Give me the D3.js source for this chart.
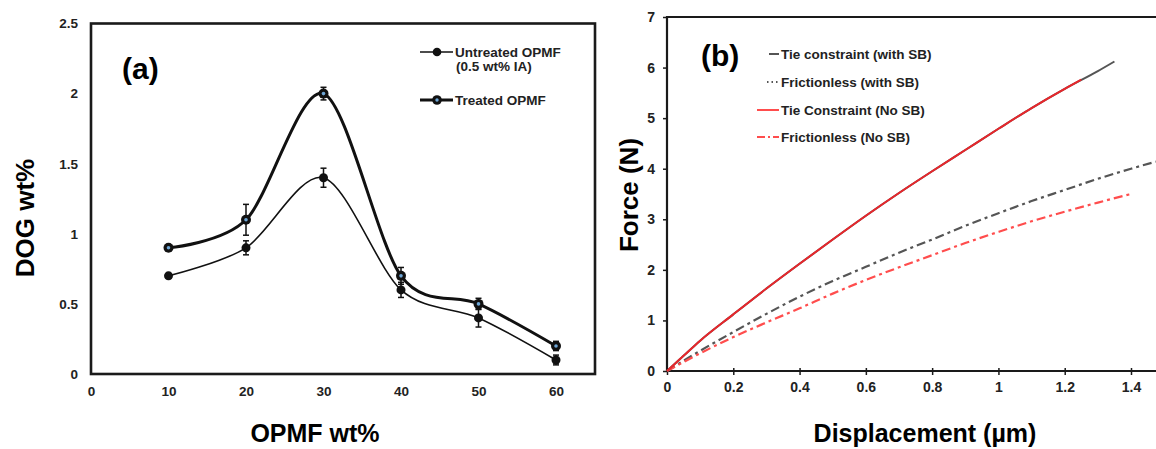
<!DOCTYPE html>
<html><head><meta charset="utf-8">
<script src="https://cdn.jsdelivr.net/npm/d3@7"></script>
<style>
html,body{margin:0;padding:0;background:#fff;}
text{font-family:"Liberation Sans",Arial,sans-serif;font-weight:bold;}
</style></head>
<body><svg id="c" width="1156" height="449"></svg>
<script>
// ---- Panel (a) data ----
const opmf = [10, 20, 30, 40, 50, 60];
const untreated = [0.7, 0.9, 1.4, 0.6, 0.4, 0.1];
const untreatedErr = [0.015, 0.05, 0.068, 0.054, 0.065, 0.035];
const treated = [0.9, 1.1, 2.0, 0.7, 0.5, 0.2];
const treatedErr = [0.015, 0.11, 0.045, 0.06, 0.04, 0.033];
const aXTicks = [0, 10, 20, 30, 40, 50, 60];
const aYTicks = [0, 0.5, 1, 1.5, 2, 2.5];

// ---- Panel (b) data ----
const tieSBx = [0, 0.05, 0.1, 0.2, 0.3, 0.4, 0.5, 0.6, 0.7, 0.8, 0.9, 1.0, 1.1, 1.2, 1.3, 1.35];
const tieSBy = [0, 0.3, 0.6, 1.12, 1.63, 2.12, 2.6, 3.07, 3.52, 3.95, 4.37, 4.79, 5.2, 5.58, 5.93, 6.12];
const tieNoSBx = [0, 0.05, 0.1, 0.2, 0.3, 0.4, 0.5, 0.6, 0.7, 0.8, 0.9, 1.0, 1.1, 1.2, 1.25];
const tieNoSBy = [0, 0.3, 0.6, 1.12, 1.63, 2.12, 2.6, 3.07, 3.52, 3.95, 4.37, 4.79, 5.2, 5.58, 5.76];
const fricSBx = [0, 0.1, 0.2, 0.3, 0.4, 0.5, 0.6, 0.7, 0.8, 0.9, 1.0, 1.1, 1.2, 1.3, 1.4, 1.475];
const fricSBy = [0, 0.4, 0.77, 1.13, 1.47, 1.78, 2.06, 2.34, 2.6, 2.87, 3.12, 3.36, 3.58, 3.8, 4.0, 4.14];
const fricNoSBx = [0, 0.1, 0.2, 0.3, 0.4, 0.5, 0.6, 0.7, 0.8, 0.9, 1.0, 1.1, 1.2, 1.3, 1.4];
const fricNoSBy = [0, 0.35, 0.67, 0.96, 1.24, 1.53, 1.8, 2.05, 2.29, 2.53, 2.75, 2.96, 3.15, 3.33, 3.5];
const bXTicks = [0, 0.2, 0.4, 0.6, 0.8, 1, 1.2, 1.4];
const bYTicks = [0, 1, 2, 3, 4, 5, 6, 7];

const svg = d3.select("#c");
const zip = (xs, ys) => xs.map((x, i) => [x, ys[i]]);

// ================= Panel (a) =================
const xA = d3.scaleLinear().domain([0, 60]).range([91, 556]);
const yA = d3.scaleLinear().domain([0, 2.5]).range([374, 23.5]);
const gA = svg.append("g");

gA.append("rect").attr("x", xA(0)).attr("y", yA(2.5))
  .attr("width", 595 - xA(0)).attr("height", yA(0) - yA(2.5))
  .attr("fill", "none").attr("stroke", "#1a1a1a").attr("stroke-width", 2.6);

const axA_y = gA.append("g").attr("transform", `translate(${xA(0)},0)`)
  .call(d3.axisLeft(yA).tickValues(aYTicks).tickSize(0).tickPadding(13).tickFormat(d3.format("")));
axA_y.select(".domain").remove();
axA_y.selectAll("text").attr("font-size", 13.5).attr("fill", "#222")
  .style("font-family", '"Liberation Sans",Arial,sans-serif').style("font-weight", "bold");
const axA_x = gA.append("g").attr("transform", `translate(0,${yA(0)})`)
  .call(d3.axisBottom(xA).tickValues(aXTicks).tickSize(0).tickPadding(12).tickFormat(d3.format("")));
axA_x.select(".domain").remove();
axA_x.selectAll("text").attr("font-size", 13.5).attr("fill", "#222")
  .style("font-family", '"Liberation Sans",Arial,sans-serif').style("font-weight", "bold");

const lineA = d3.line().x(d => xA(d[0])).y(d => yA(d[1])).curve(d3.curveCardinal.tension(0.1));
gA.append("path").datum(zip(opmf, untreated)).attr("d", lineA)
  .attr("fill", "none").attr("stroke", "#111").attr("stroke-width", 1.6);
gA.append("path").datum(zip(opmf, treated)).attr("d", lineA)
  .attr("fill", "none").attr("stroke", "#111").attr("stroke-width", 3);

function errBars(vals, errs) {
  opmf.forEach((x, i) => {
    const cx = xA(x), y1 = yA(vals[i] + errs[i]), y2 = yA(vals[i] - errs[i]);
    gA.append("line").attr("x1", cx).attr("x2", cx).attr("y1", y1).attr("y2", y2)
      .attr("stroke", "#111").attr("stroke-width", 1.5);
    [y1, y2].forEach(yy => gA.append("line").attr("x1", cx - 3).attr("x2", cx + 3)
      .attr("y1", yy).attr("y2", yy).attr("stroke", "#111").attr("stroke-width", 1.5));
  });
}
errBars(untreated, untreatedErr);
errBars(treated, treatedErr);

gA.selectAll(".mu").data(zip(opmf, untreated)).enter().append("circle")
  .attr("cx", d => xA(d[0])).attr("cy", d => yA(d[1])).attr("r", 4.5).attr("fill", "#111");
const tm = gA.selectAll(".mt").data(zip(opmf, treated)).enter().append("g");
tm.append("circle").attr("cx", d => xA(d[0])).attr("cy", d => yA(d[1])).attr("r", 5).attr("fill", "#111");
tm.append("circle").attr("cx", d => xA(d[0])).attr("cy", d => yA(d[1])).attr("r", 1.8).attr("fill", "#6ea6d6");

gA.append("text").attr("x", 122).attr("y", 79).attr("font-size", 30).attr("fill", "#000").text("(a)");

const legA = gA.append("g");
legA.append("line").attr("x1", 420).attr("x2", 453).attr("y1", 52).attr("y2", 52).attr("stroke", "#111").attr("stroke-width", 1.6);
legA.append("circle").attr("cx", 437).attr("cy", 52).attr("r", 4.3).attr("fill", "#111");
legA.append("text").attr("x", 455).attr("y", 57).attr("font-size", 13.5).attr("fill", "#222").text("Untreated OPMF");
legA.append("text").attr("x", 456).attr("y", 71).attr("font-size", 13.5).attr("fill", "#222").text("(0.5 wt% IA)");
legA.append("line").attr("x1", 420).attr("x2", 453).attr("y1", 100).attr("y2", 100).attr("stroke", "#111").attr("stroke-width", 3);
legA.append("circle").attr("cx", 437).attr("cy", 100).attr("r", 4.8).attr("fill", "#111");
legA.append("circle").attr("cx", 437).attr("cy", 100).attr("r", 1.7).attr("fill", "#6ea6d6");
legA.append("text").attr("x", 455).attr("y", 105).attr("font-size", 13.5).attr("fill", "#222").text("Treated OPMF");

svg.append("text").attr("transform", "translate(34,218) rotate(-90)").attr("text-anchor", "middle")
  .attr("font-size", 26).attr("fill", "#000").text("DOG wt%");
svg.append("text").attr("x", 315).attr("y", 442).attr("text-anchor", "middle")
  .attr("font-size", 25).attr("fill", "#000").text("OPMF wt%");

// ================= Panel (b) =================
const xB = d3.scaleLinear().domain([0, 1.4]).range([667, 1131]);
const yB = d3.scaleLinear().domain([0, 7]).range([371, 17]);
const gB = svg.append("g");

gB.append("path").attr("d", `M1160,${yB(7)}H${xB(0)}V${yB(0)}H1160`)
  .attr("fill", "none").attr("stroke", "#1a1a1a").attr("stroke-width", 2.2);

const axB_y = gB.append("g").attr("transform", `translate(${xB(0)},0)`)
  .call(d3.axisLeft(yB).tickValues(bYTicks).tickSize(4).tickPadding(8).tickFormat(d3.format("")));
axB_y.select(".domain").remove();
axB_y.selectAll("line").attr("stroke", "#1a1a1a").attr("stroke-width", 1.5);
axB_y.selectAll("text").attr("font-size", 14).attr("fill", "#222")
  .style("font-family", '"Liberation Sans",Arial,sans-serif').style("font-weight", "bold");
const axB_x = gB.append("g").attr("transform", `translate(0,${yB(0)})`)
  .call(d3.axisBottom(xB).tickValues(bXTicks).tickSize(4).tickPadding(7).tickFormat(d3.format("")));
axB_x.select(".domain").remove();
axB_x.selectAll("line").attr("stroke", "#1a1a1a").attr("stroke-width", 1.5).attr("y1", -3);
axB_x.selectAll("text").attr("font-size", 14).attr("fill", "#222")
  .style("font-family", '"Liberation Sans",Arial,sans-serif').style("font-weight", "bold");

const lineB = d3.line().x(d => xB(d[0])).y(d => yB(d[1])).curve(d3.curveMonotoneX);
gB.append("path").datum(zip(fricSBx, fricSBy)).attr("d", lineB).attr("fill", "none")
  .attr("stroke", "#555").attr("stroke-width", 2.2).attr("stroke-dasharray", "9,4,3,4");
gB.append("path").datum(zip(fricNoSBx, fricNoSBy)).attr("d", lineB).attr("fill", "none")
  .attr("stroke", "#ff4d4d").attr("stroke-width", 2.2).attr("stroke-dasharray", "9,4,3,4");
gB.append("path").datum(zip(tieSBx, tieSBy)).attr("d", lineB).attr("fill", "none")
  .attr("stroke", "#555").attr("stroke-width", 2);
gB.append("path").datum(zip(tieNoSBx, tieNoSBy)).attr("d", lineB).attr("fill", "none")
  .attr("stroke", "#e8262b").attr("stroke-width", 2);

gB.append("text").attr("x", 701).attr("y", 66).attr("font-size", 30).attr("fill", "#000").text("(b)");

const legB = gB.append("g");
const legItems = [
  {y: 54, text: "Tie constraint (with SB)", color: "#555", x1: 769, dash: null},
  {y: 82, text: "Frictionless (with SB)", color: "#555", x1: 767, dash: "1.5,3"},
  {y: 110, text: "Tie Constraint (No SB)", color: "#ff4d4d", x1: 757, dash: null},
  {y: 137, text: "Frictionless (No SB)", color: "#ff4d4d", x1: 757, dash: "8,3,2,3"}
];
legItems.forEach(it => {
  legB.append("line").attr("x1", it.x1).attr("x2", 779).attr("y1", it.y).attr("y2", it.y)
    .attr("stroke", it.color).attr("stroke-width", 2).attr("stroke-dasharray", it.dash);
  legB.append("text").attr("x", 781).attr("y", it.y + 5).attr("font-size", 13.5)
    .attr("fill", "#222").text(it.text);
});

svg.append("text").attr("transform", "translate(638,195) rotate(-90)").attr("text-anchor", "middle")
  .attr("font-size", 26).attr("fill", "#000").text("Force (N)");
svg.append("text").attr("x", 925).attr("y", 442).attr("text-anchor", "middle")
  .attr("font-size", 25).attr("fill", "#000").text("Displacement (µm)");
</script></body></html>
